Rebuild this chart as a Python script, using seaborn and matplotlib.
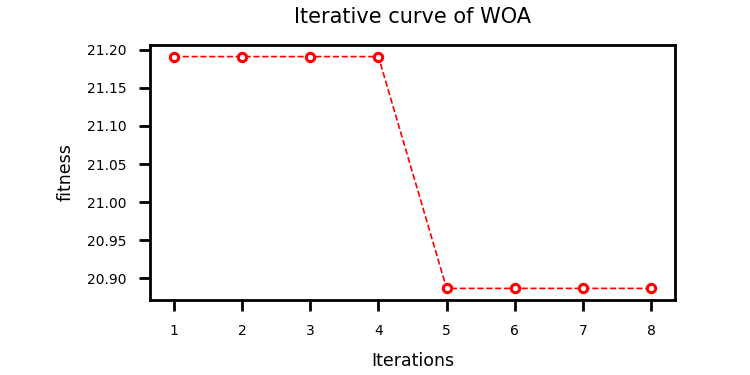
import seaborn as sns
from matplotlib import pyplot as plt
import numpy as np

iterations = [1, 2, 3, 4, 5, 6, 7, 8]
fitness = [21.1908, 21.1908, 21.1908, 21.1908, 20.887, 20.887, 20.887, 20.887]


def plot_curve():
    sns.set_style('ticks')
    plt.rcParams.update({'text.color': 'black', 'axes.labelcolor': 'black',
                         'xtick.color': 'black', 'ytick.color': 'black'})
    fig = plt.figure(figsize=(7.5, 3.75), dpi=100)
    ax = fig.add_axes([0.2, 0.2, 0.7, 0.68])
    sns.lineplot(x=iterations, y=fitness, ax=ax, color='red', linestyle='--',
                 linewidth=1.2, marker='o', markersize=6, markerfacecolor='white',
                 markeredgecolor='red', markeredgewidth=2.2)
    ax.set_xticks(iterations)
    ax.set_title('Iterative curve of WOA', fontsize=15, pad=16)
    ax.set_xlabel('Iterations', fontsize=12.5, labelpad=10)
    ax.set_ylabel('fitness', fontsize=12.5, labelpad=9)
    ax.tick_params(labelsize=10, length=8, width=2, pad=9, color='black')
    for s in ax.spines.values():
        s.set_linewidth(2)
        s.set_color('black')
    fig.savefig('out.png')


if __name__ == '__main__':
    plot_curve()
